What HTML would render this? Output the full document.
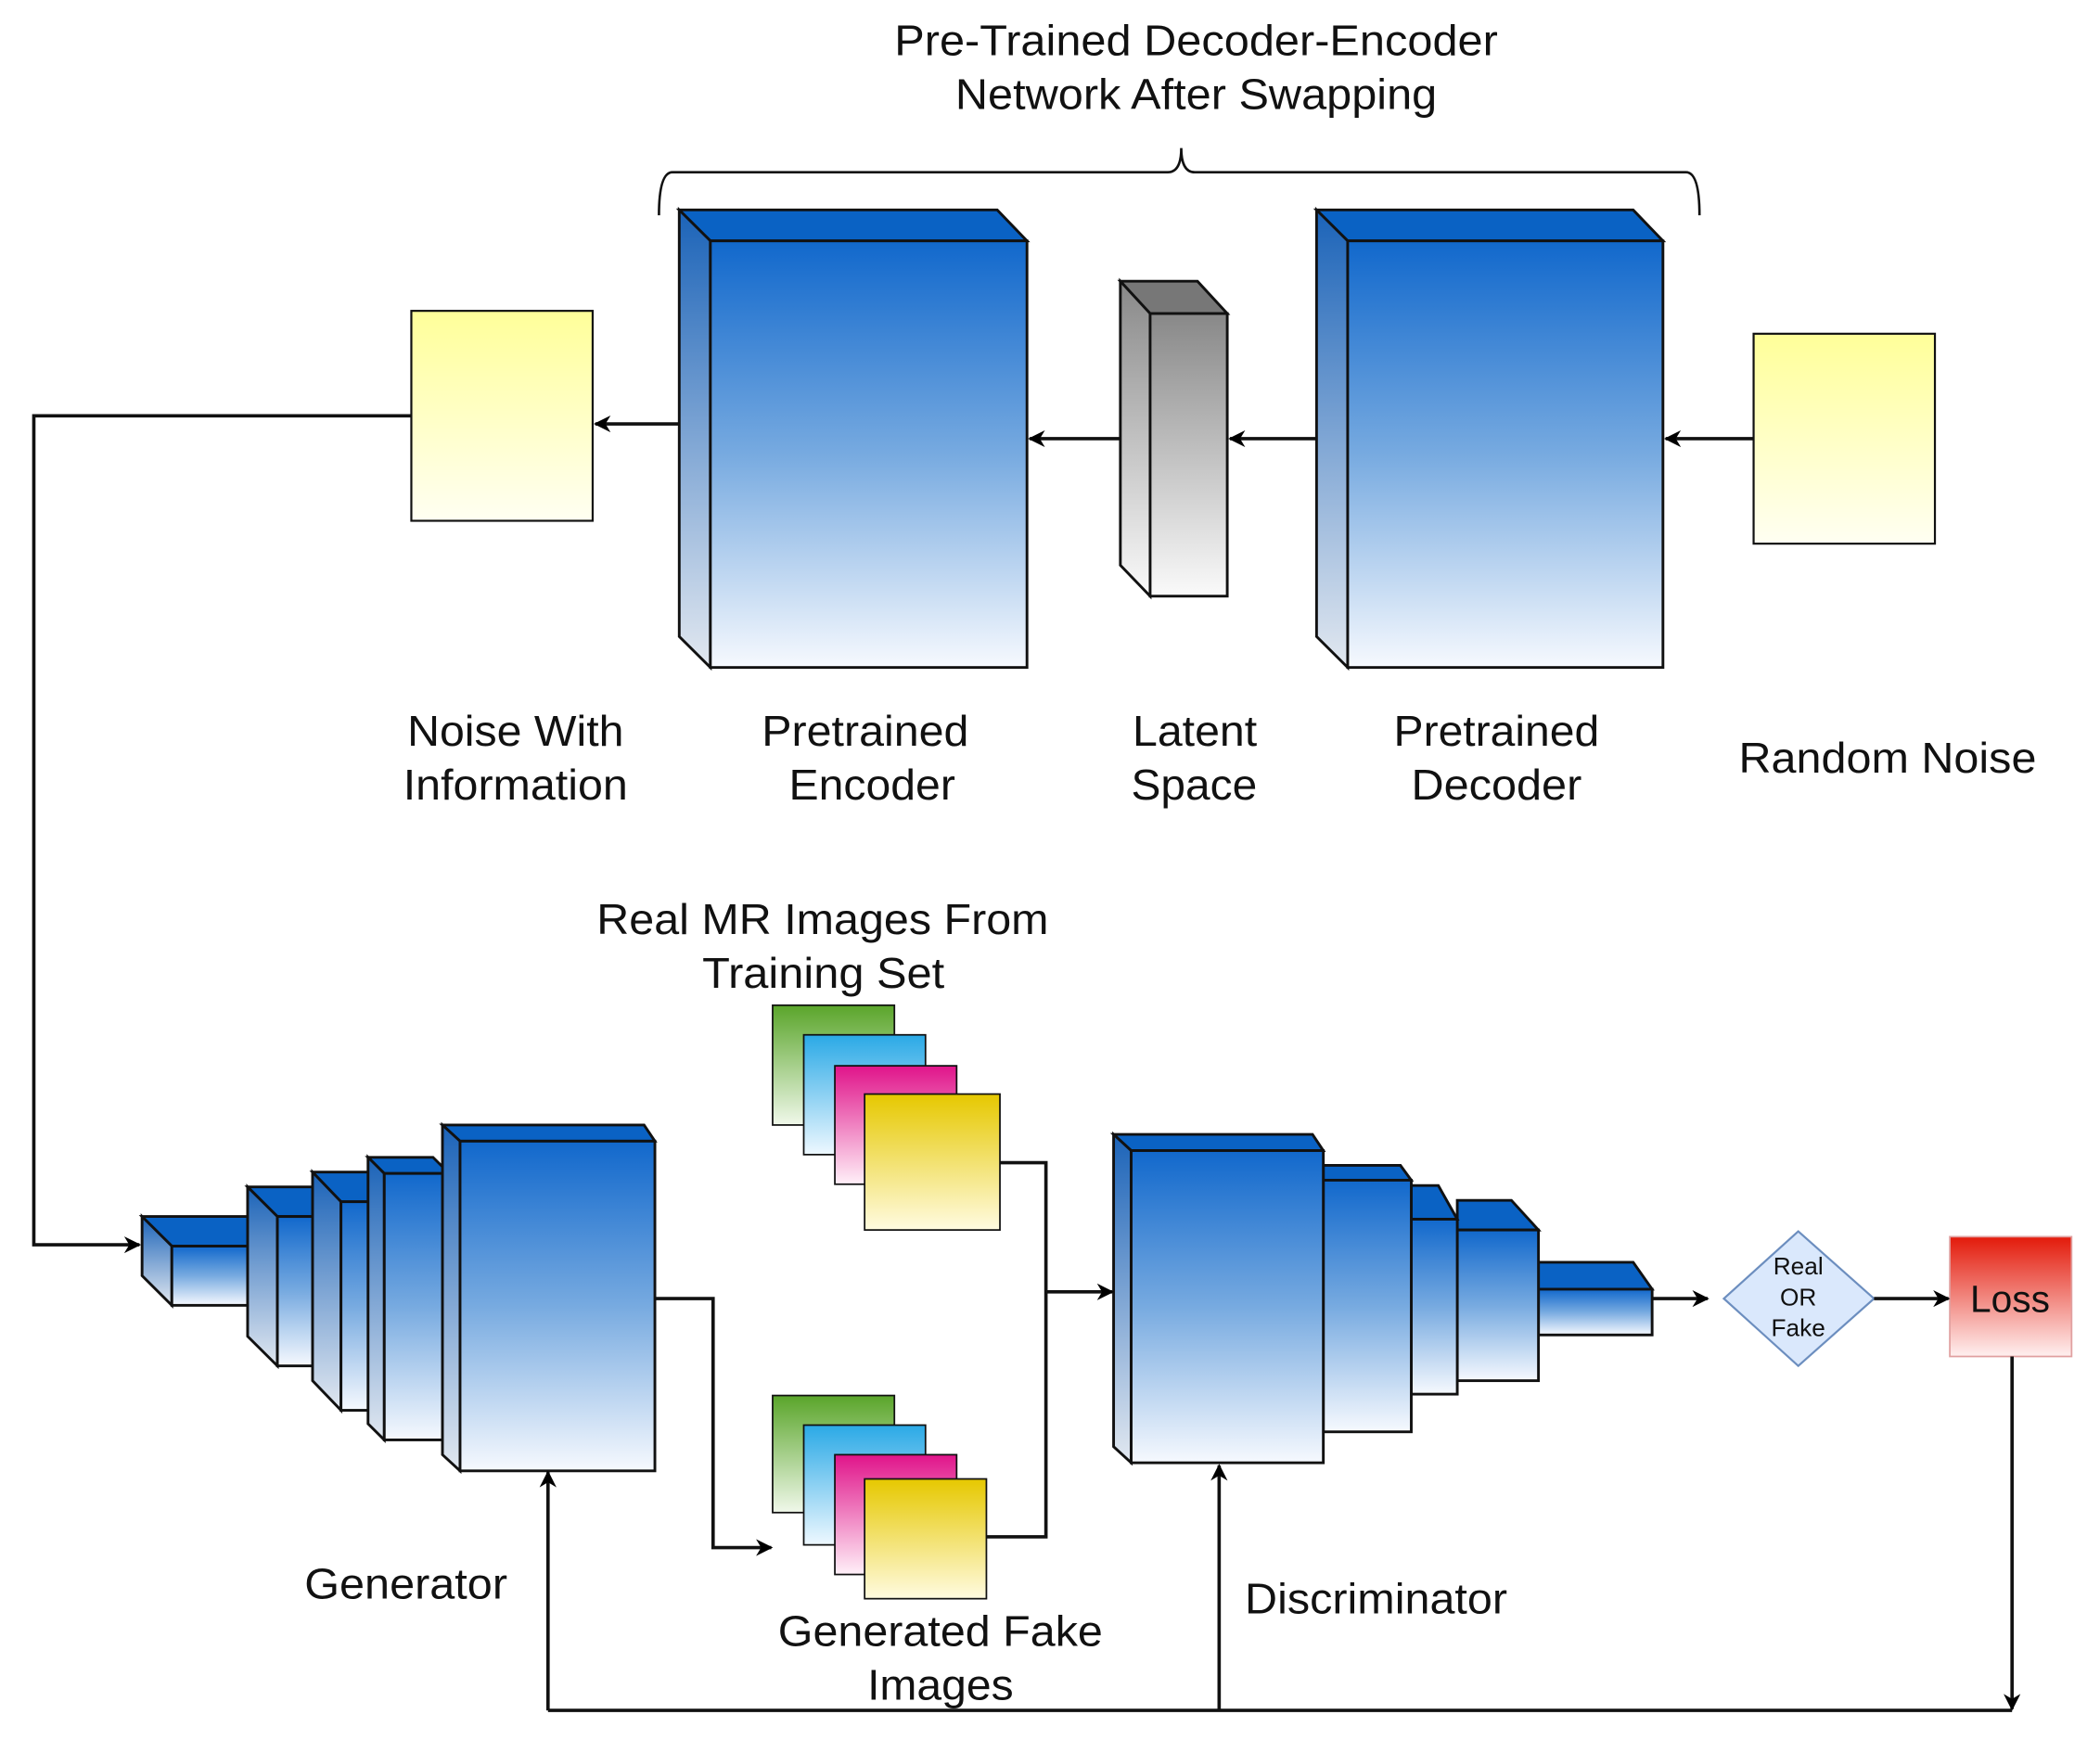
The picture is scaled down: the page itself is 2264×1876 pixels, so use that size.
<!DOCTYPE html>
<html><head><meta charset="utf-8"><style>
html,body{margin:0;padding:0;background:#fff}
svg{display:block}
text{font-family:"Liberation Sans",sans-serif;fill:#111}
</style></head><body>
<svg width="2264" height="1876" viewBox="0 0 1552 1293" preserveAspectRatio="none" xmlns="http://www.w3.org/2000/svg">
<defs>
<linearGradient id="bl" x1="0" y1="0" x2="0" y2="1"><stop offset="0" stop-color="#1168cc"/><stop offset="0.5" stop-color="#77aae0"/><stop offset="1" stop-color="#f6f9fe"/></linearGradient>
<linearGradient id="bs" x1="0" y1="0" x2="0" y2="1"><stop offset="0" stop-color="#1b63b8"/><stop offset="1" stop-color="#e2e8f0"/></linearGradient>
<linearGradient id="gr" x1="0" y1="0" x2="0" y2="1"><stop offset="0" stop-color="#888"/><stop offset="1" stop-color="#fafafa"/></linearGradient>
<linearGradient id="ye" x1="0" y1="0" x2="0" y2="1"><stop offset="0" stop-color="#ffff99"/><stop offset="1" stop-color="#fffff2"/></linearGradient>
<linearGradient id="g1" x1="0" y1="0" x2="0" y2="1"><stop offset="0" stop-color="#5aa52a"/><stop offset="1" stop-color="#f0f8ea"/></linearGradient>
<linearGradient id="g2" x1="0" y1="0" x2="0" y2="1"><stop offset="0" stop-color="#2aa9e6"/><stop offset="1" stop-color="#eef8ff"/></linearGradient>
<linearGradient id="g3" x1="0" y1="0" x2="0" y2="1"><stop offset="0" stop-color="#e0148a"/><stop offset="1" stop-color="#fff0f8"/></linearGradient>
<linearGradient id="g4" x1="0" y1="0" x2="0" y2="1"><stop offset="0" stop-color="#e6c800"/><stop offset="1" stop-color="#fffbe0"/></linearGradient>
<linearGradient id="rd" x1="0" y1="0" x2="0" y2="1"><stop offset="0" stop-color="#e31a0a"/><stop offset="1" stop-color="#fff0f0"/></linearGradient>
<marker id="ar" viewBox="0 0 10 10" refX="9" refY="5" markerWidth="5" markerHeight="5" orient="auto"><path d="M0,0 L10,5 L0,10 L3,5 z" fill="#000"/></marker>
</defs>
<g stroke="#111" stroke-width="2">
<path d="M487,160 Q487,128 497,128 L863,128 Q873,128 873,110 Q873,128 883,128 L1246,128 Q1256,128 1256,160" fill="none" stroke-width="1.8"/>
<polygon points="502,156 737,156 759,179 525,179" fill="#0a62c4"/>
<polygon points="502,156 525,179 525,496 502,473" fill="url(#bs)"/>
<rect x="525" y="179" width="234" height="317" fill="url(#bl)"/>
<polygon points="973,156 1207,156 1229,179 996,179" fill="#0a62c4"/>
<polygon points="973,156 996,179 996,496 973,473" fill="url(#bs)"/>
<rect x="996" y="179" width="233" height="317" fill="url(#bl)"/>
<polygon points="828,209 885,209 907,233 850,233" fill="#777"/>
<polygon points="828,209 850,233 850,443 828,420" fill="url(#gr)"/>
<rect x="850" y="233" width="57" height="210" fill="url(#gr)"/>
<rect x="304" y="231" width="134" height="156" fill="url(#ye)" stroke-width="1.5"/>
<rect x="1296" y="248" width="134" height="156" fill="url(#ye)" stroke-width="1.5"/>
<g fill="none" stroke-width="2.5" marker-end="url(#ar)">
<line x1="1296" y1="326" x2="1231" y2="326"/>
<line x1="973" y1="326" x2="909" y2="326"/>
<line x1="828" y1="326" x2="761" y2="326"/>
<line x1="502" y1="315" x2="440" y2="315"/>
<polyline points="304,309 25,309 25,925 103,925"/>
</g>
<polygon points="105,904 305,904 327,926 127,926" fill="#0a62c4"/>
<polygon points="105,904 127,926 127,970 105,948" fill="url(#bs)"/>
<rect x="127" y="926" width="56" height="44" fill="url(#bl)"/>
<polygon points="183,882 305,882 327,904 205,904" fill="#0a62c4"/>
<polygon points="183,882 205,904 205,1015 183,993" fill="url(#bs)"/>
<rect x="205" y="904" width="47" height="111" fill="url(#bl)"/>
<polygon points="231,871 305,871 327,893 252,893" fill="#0a62c4"/>
<polygon points="231,871 252,893 252,1048 231,1026" fill="url(#bs)"/>
<rect x="252" y="893" width="32" height="155" fill="url(#bl)"/>
<polygon points="272,860 320,860 332,872 284,872" fill="#0a62c4"/>
<polygon points="272,860 284,872 284,1070 272,1058" fill="url(#bs)"/>
<rect x="284" y="872" width="48" height="198" fill="url(#bl)"/>
<polygon points="327,836 476,836 484,848 340,848" fill="#0a62c4"/>
<polygon points="327,836 340,848 340,1093 327,1081" fill="url(#bs)"/>
<rect x="340" y="848" width="144" height="245" fill="url(#bl)"/>
<polygon points="1137,938 1207,938 1221,958 1137,958" fill="#0a62c4"/>
<rect x="1137" y="958" width="84" height="34" fill="url(#bl)"/>
<polygon points="1077,892 1117,892 1137,914 1077,914" fill="#0a62c4"/>
<rect x="1077" y="914" width="60" height="112" fill="url(#bl)"/>
<polygon points="1043,881 1063,881 1077,906 1043,906" fill="#0a62c4"/>
<rect x="1043" y="906" width="34" height="130" fill="url(#bl)"/>
<polygon points="978,866 1035,866 1043,877 978,877" fill="#0a62c4"/>
<rect x="978" y="877" width="65" height="187" fill="url(#bl)"/>
<polygon points="823,843 970,843 978,855 836,855" fill="#0a62c4"/>
<polygon points="823,843 836,855 836,1087 823,1075" fill="url(#bs)"/>
<rect x="836" y="855" width="142" height="232" fill="url(#bl)"/>
<g stroke-width="1.2">
<rect x="571" y="747" width="90" height="89" fill="url(#g1)"/>
<rect x="594" y="769" width="90" height="89" fill="url(#g2)"/>
<rect x="617" y="792" width="90" height="88" fill="url(#g3)"/>
<rect x="639" y="813" width="100" height="101" fill="url(#g4)"/>
<rect x="571" y="1037" width="90" height="87" fill="url(#g1)"/>
<rect x="594" y="1059" width="90" height="89" fill="url(#g2)"/>
<rect x="617" y="1081" width="90" height="89" fill="url(#g3)"/>
<rect x="639" y="1099" width="90" height="89" fill="url(#g4)"/>
</g>
<polygon points="1329,915 1385,965 1329,1015 1274,965" fill="#dae8fc" stroke="#6c8ebf" stroke-width="1.5"/>
<rect x="1441" y="919" width="90" height="89" fill="url(#rd)" stroke="#e0a0a0" stroke-width="1.2"/>
<g fill="none" stroke-width="2.5" marker-end="url(#ar)">
<polyline points="484,965 527,965 527,1150 570,1150"/>
<polyline points="739,864 773,864 773,1142 729,1142" marker-end="none"/>
<line x1="773" y1="960" x2="822" y2="960"/>
<line x1="1221" y1="965" x2="1262" y2="965"/>
<line x1="1385" y1="965" x2="1440" y2="965"/>
<polyline points="1487,1008 1487,1270"/>
<line x1="405" y1="1271" x2="405" y2="1094"/>
<line x1="901" y1="1271" x2="901" y2="1089"/>
</g>
<line x1="405" y1="1271" x2="1487" y2="1271" stroke-width="2.5"/>
</g>
<g font-size="32" lengthAdjust="spacingAndGlyphs">
<text x="661" y="41" textLength="446" lengthAdjust="spacingAndGlyphs">Pre-Trained Decoder-Encoder</text>
<text x="706" y="81" textLength="356" lengthAdjust="spacingAndGlyphs">Network After Swapping</text>
<text x="301" y="554" textLength="160" lengthAdjust="spacingAndGlyphs">Noise With</text>
<text x="298" y="594" textLength="166" lengthAdjust="spacingAndGlyphs">Information</text>
<text x="563" y="554" textLength="153" lengthAdjust="spacingAndGlyphs">Pretrained</text>
<text x="583" y="594" textLength="123" lengthAdjust="spacingAndGlyphs">Encoder</text>
<text x="837" y="554" textLength="92" lengthAdjust="spacingAndGlyphs">Latent</text>
<text x="836" y="594" textLength="93" lengthAdjust="spacingAndGlyphs">Space</text>
<text x="1030" y="554" textLength="152" lengthAdjust="spacingAndGlyphs">Pretrained</text>
<text x="1043" y="594" textLength="126" lengthAdjust="spacingAndGlyphs">Decoder</text>
<text x="1285" y="574" textLength="220" lengthAdjust="spacingAndGlyphs">Random Noise</text>
<text x="441" y="694" textLength="334" lengthAdjust="spacingAndGlyphs">Real MR Images From</text>
<text x="519" y="734" textLength="179" lengthAdjust="spacingAndGlyphs">Training Set</text>
<text x="225" y="1188" textLength="150" lengthAdjust="spacingAndGlyphs">Generator</text>
<text x="575" y="1223" textLength="240" lengthAdjust="spacingAndGlyphs">Generated Fake</text>
<text x="641" y="1263" textLength="108" lengthAdjust="spacingAndGlyphs">Images</text>
<text x="920" y="1199" textLength="194" lengthAdjust="spacingAndGlyphs">Discriminator</text>
<text x="1456" y="975" font-size="28" textLength="59" lengthAdjust="spacingAndGlyphs">Loss</text>
</g>
<g font-size="18" text-anchor="middle" fill="#333">
<text x="1329" y="947">Real</text><text x="1329" y="970">OR</text><text x="1329" y="993">Fake</text>
</g>
</svg>
</body></html>
